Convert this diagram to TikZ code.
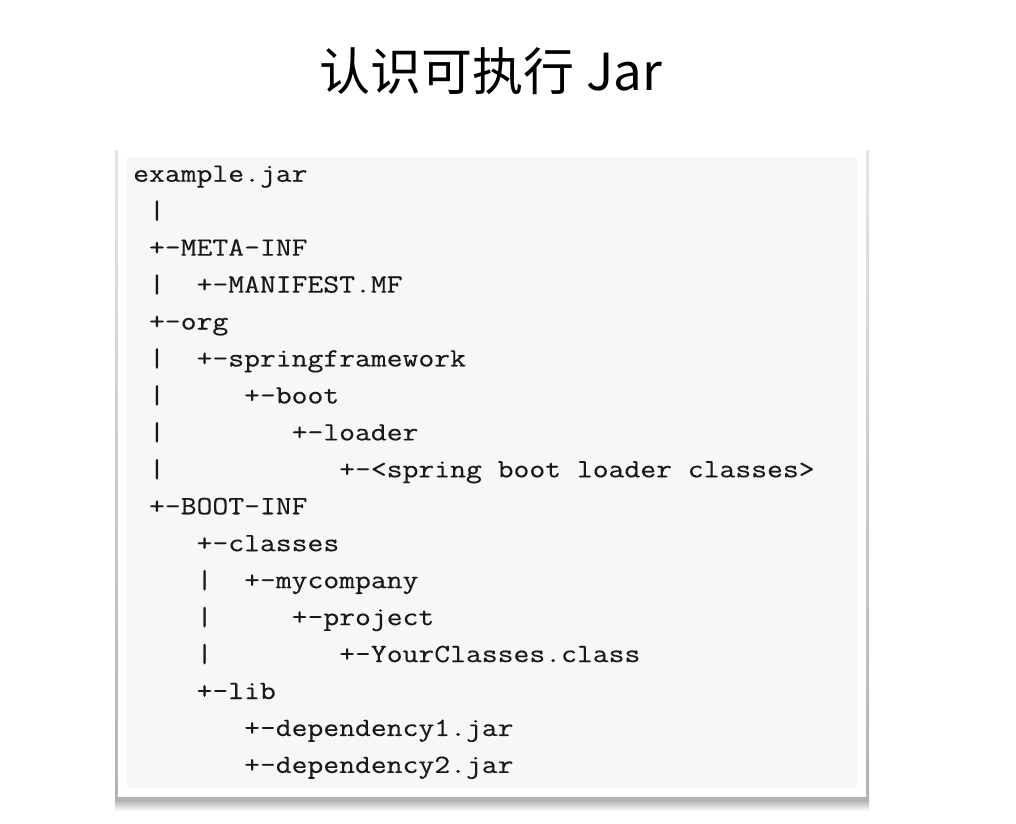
\documentclass[tikz,border=0pt]{standalone}
\usepackage{fontspec}
\setmonofont[FakeStretch=1.17, FakeBold=0.3]{Latin Modern Mono}
\newfontfamily\cjkfont{Noto Sans CJK SC}
\usetikzlibrary{matrix, positioning}
\definecolor{codebg}{HTML}{F7F6F9}
\tikzset{
tree/.style={
  matrix of nodes,
  inner sep=0pt,
  row sep=8.95pt,
  nodes={anchor=base west, inner sep=0pt,
    text height=20pt, text depth=8pt,
    font=\ttfamily\fontsize{26.3}{30}\selectfont, text=black!90},
},
title/.style={font=\cjkfont\fontsize{51}{56}\selectfont, anchor=base, inner sep=0pt},
}

\begin{document}
\begin{tikzpicture}[x=1pt,y=-1pt]
\useasboundingbox (0,0) rectangle (1016,823);
% frame and its shadow
\shade[top color=gray!20, bottom color=gray!60] (115,150) rectangle (869,800);
\shade[top color=gray!60, bottom color=white] (115,800) rectangle (869,811);
\fill[white] (118,147) rectangle (866,797);
\fill[codebg] (127,157) rectangle (857,788);
\node[title] (title) at (491,90) {认识可执行 Jar};
\matrix (tree) [tree, anchor=north west] at (133,161.5) {
example.jar\\
~\textbar\\
~+-META-INF\\
~\textbar~~+-MANIFEST.MF\\
~+-org\\
~\textbar~~+-springframework\\
~\textbar~~~~~+-boot\\
~\textbar~~~~~~~~+-loader\\
~\textbar~~~~~~~~~~~+-<spring boot loader classes>\\
~+-BOOT-INF\\
~~~~+-classes\\
~~~~\textbar~~+-mycompany\\
~~~~\textbar~~~~~+-project\\
~~~~\textbar~~~~~~~~+-YourClasses.class\\
~~~~+-lib\\
~~~~~~~+-dependency1.jar\\
~~~~~~~+-dependency2.jar\\
};
\end{tikzpicture}
\end{document}
